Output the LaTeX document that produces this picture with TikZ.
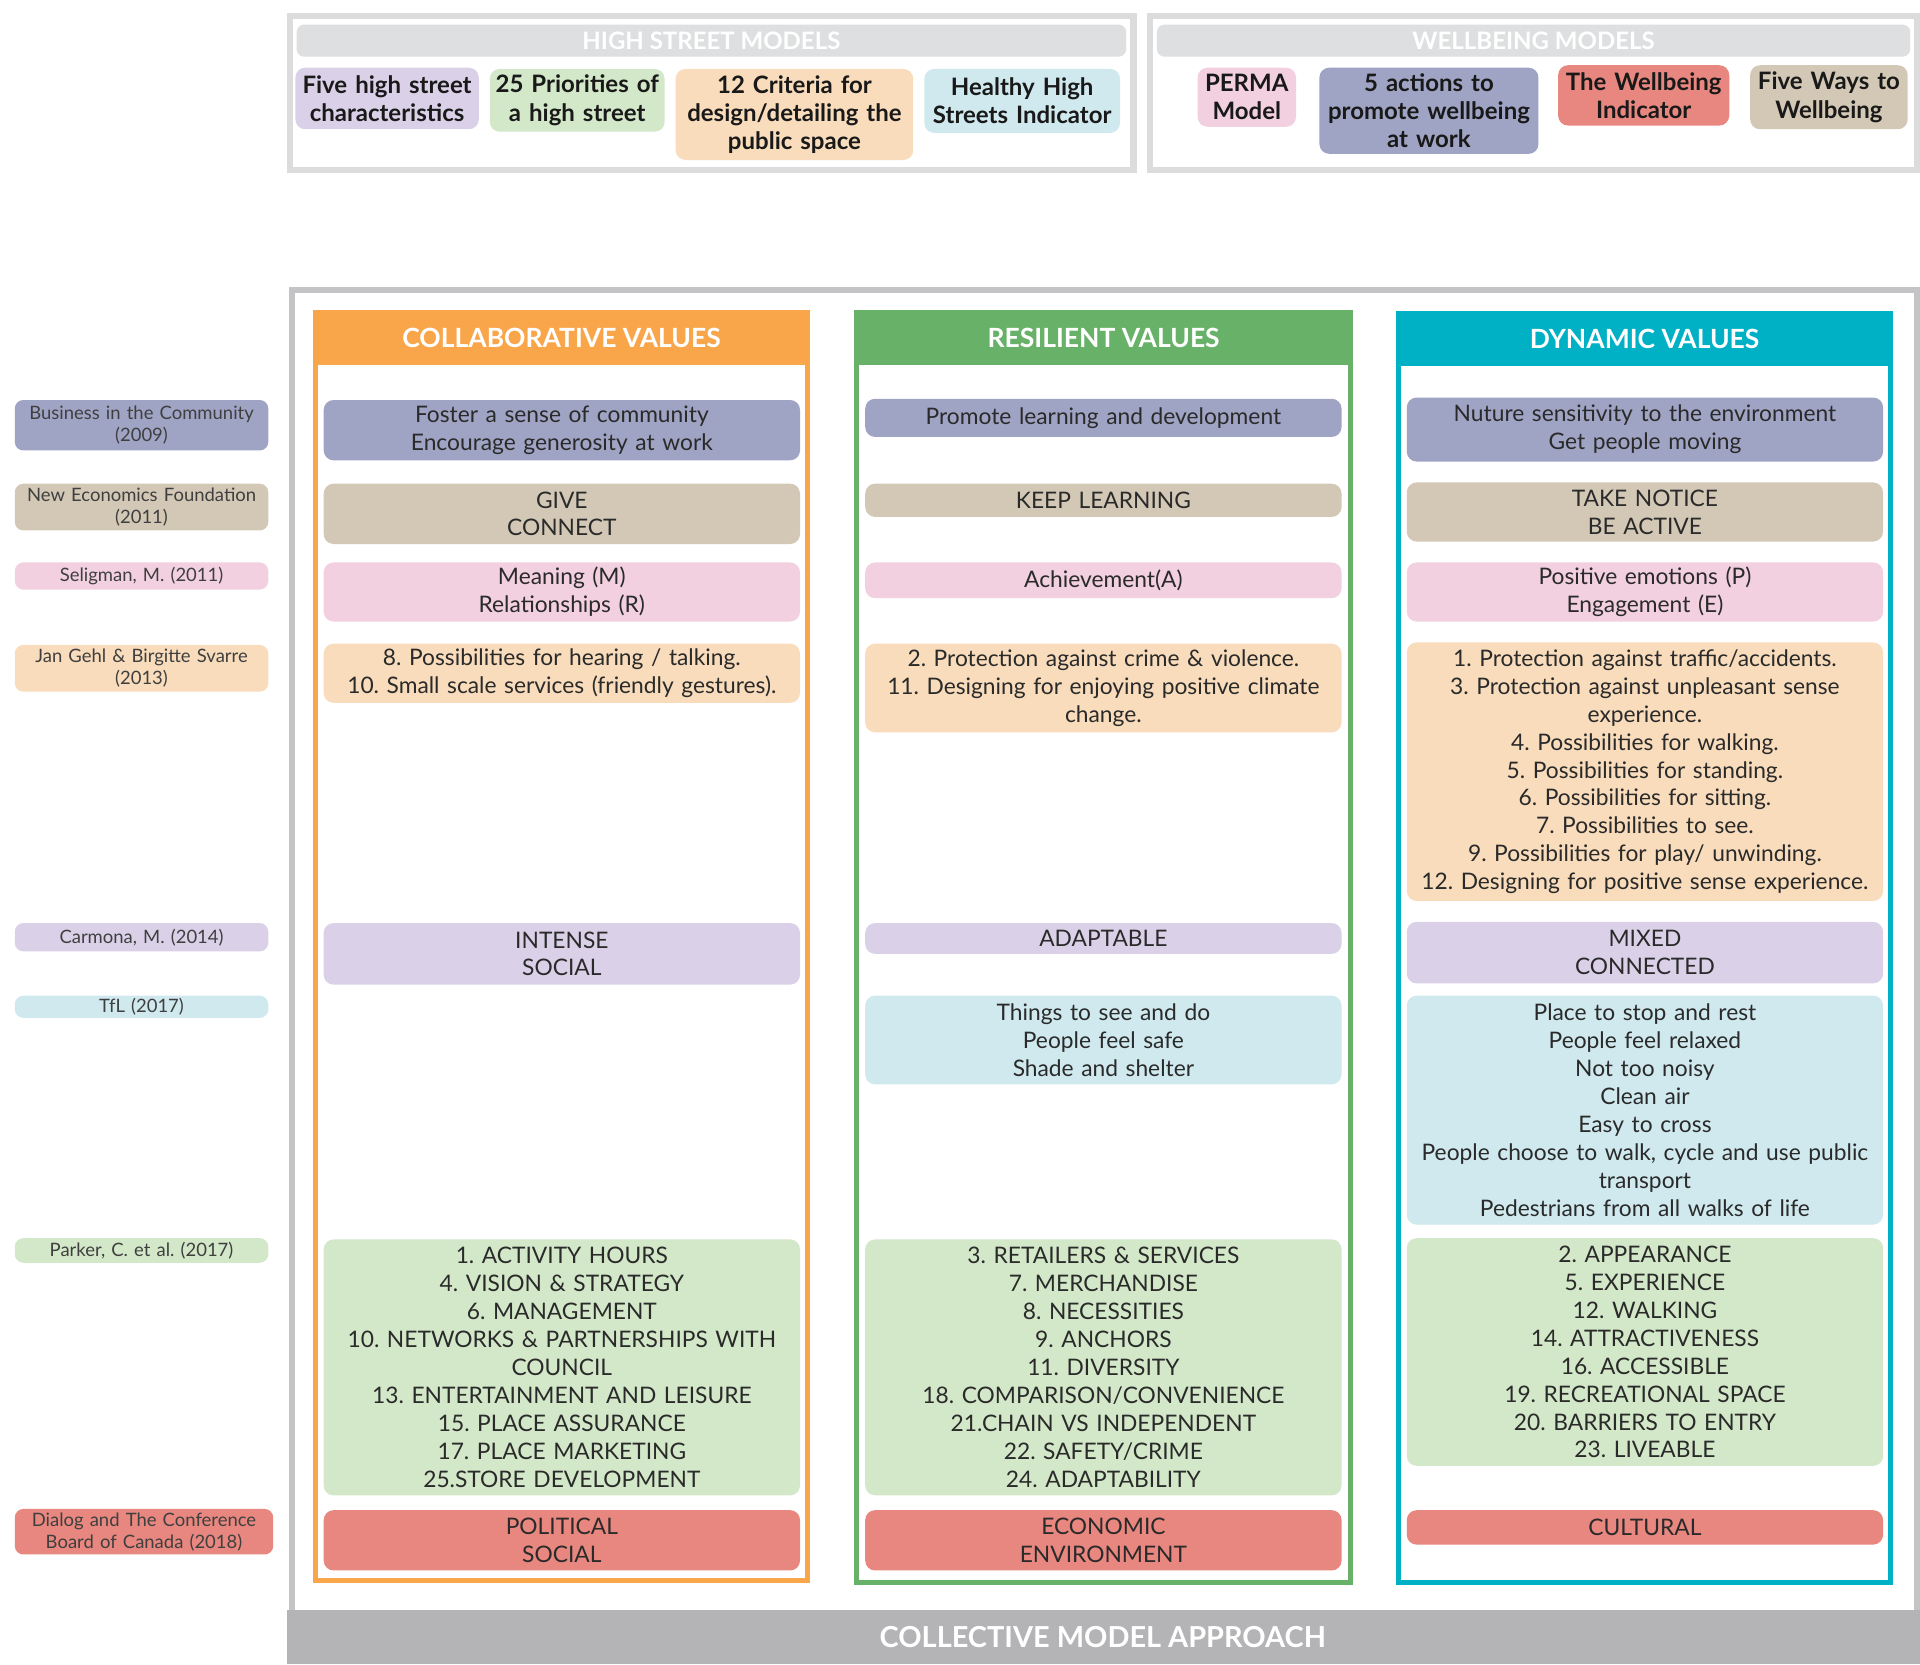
\documentclass[tikz,border=0pt]{standalone}
\usepackage{fontspec}
\setmainfont{Lato}
\frenchspacing
\definecolor{slate}{HTML}{A0A4C4}
\definecolor{tan}{HTML}{D3C8B6}
\definecolor{pinkc}{HTML}{F2D0DF}
\definecolor{peach}{HTML}{F8DCBB}
\definecolor{lav}{HTML}{DAD1E8}
\definecolor{cyanc}{HTML}{CFE9EE}
\definecolor{greenc}{HTML}{D3E8C8}
\definecolor{salmon}{HTML}{E8877F}
\definecolor{orangeh}{HTML}{F9A64B}
\definecolor{greenh}{HTML}{67B168}
\definecolor{tealh}{HTML}{00B0C5}
\definecolor{panelgray}{HTML}{DCDCDC}
\definecolor{bargray}{HTML}{DEDFE0}
\definecolor{framegray}{HTML}{C4C4C6}
\definecolor{bottomgray}{HTML}{B4B4B6}
\definecolor{txt}{HTML}{2A2A2A}
\tikzset{
  cell/.style={rounded corners=8pt, inner sep=0pt, align=center, text=txt,
    minimum width=387pt, text width=385pt, font=\fontsize{18.5}{22.7}\selectfont},
  srclabel/.style={rounded corners=7pt, inner sep=0pt, align=center, text=txt!90,
    minimum width=206pt, text width=204pt, font=\fontsize{15}{18}\selectfont},
  chip/.style={rounded corners=8pt, inner sep=0pt, align=center, text=black!90,
    font=\bfseries\fontsize{19.5}{23}\selectfont},
  headbar/.style={rounded corners=6pt, fill=bargray, inner sep=0pt, text=white,
    font=\bfseries\fontsize{19.5}{20}\selectfont, minimum height=26pt},
  colhead/.style={inner sep=0pt, text=white, minimum width=404pt, minimum height=44pt,
    font=\bfseries\fontsize{21.5}{23}\selectfont},
}
\begin{document}
\begin{tikzpicture}[x=1pt,y=-1pt]
\useasboundingbox (0,0) rectangle (1560,1352);
\fill[white] (0,0) rectangle (1560,1352);

% ---------- top panels ----------
\draw[panelgray, line width=5pt] (235.5,13) rectangle (921,138);
\draw[panelgray, line width=5pt] (934.5,13) rectangle (1557.5,138);
\node[headbar, minimum width=674pt] (hsbar) at (578,33) {HIGH STREET MODELS};
\node[headbar, minimum width=612pt] (wbbar) at (1246,33) {WELLBEING MODELS};

\node[chip, fill=lav, minimum width=149pt, minimum height=50pt, text width=149pt] (hs1) at (314.5,80) {Five high street\\characteristics};
\node[chip, fill=greenc, minimum width=142pt, minimum height=51pt, text width=142pt] (hs2) at (469,81.5) {25 Priorities of\\a high street};
\node[chip, fill=peach, minimum width=193pt, minimum height=74pt, text width=193pt] (hs3) at (645.5,93) {12 Criteria for\\design/detailing the\\public space};
\node[chip, fill=cyanc, minimum width=159pt, minimum height=52pt, text width=159pt] (hs4) at (830.5,82) {Healthy High\\Streets Indicator};

\node[chip, fill=pinkc, minimum width=80pt, minimum height=48pt, text width=80pt] (wb1) at (1013,79) {PERMA\\Model};
\node[chip, fill=slate, minimum width=178pt, minimum height=70pt, text width=178pt] (wb2) at (1161,90) {5 actions to\\promote wellbeing\\at work};
\node[chip, fill=salmon, minimum width=139pt, minimum height=49pt, text width=139pt] (wb3) at (1335.5,77.5) {The Wellbeing\\Indicator};
\node[chip, fill=tan, minimum width=128pt, minimum height=52pt, text width=128pt] (wb4) at (1486,79) {Five Ways to\\Wellbeing};

% ---------- main panel ----------
\draw[framegray, line width=5pt] (237.5,1310) -- (237.5,235.5) -- (1557.5,235.5) -- (1557.5,1310);
\fill[bottomgray] (233,1308) rectangle (1560,1352);
\node[text=white, font=\bfseries\fontsize{23.5}{25}\selectfont] (collective) at (896,1330) {COLLECTIVE MODEL APPROACH};

% column frames
\draw[orangeh, line width=4pt] (256,254) rectangle (656,1284);
\node[colhead, fill=orangeh, anchor=north west] (h1) at (254,252) {COLLABORATIVE VALUES};
\draw[greenh, line width=4pt] (696,254) rectangle (1097,1286);
\node[colhead, fill=greenh, anchor=north west, minimum width=405pt] (h2) at (694,252) {RESILIENT VALUES};
\draw[tealh, line width=4pt] (1136,255) rectangle (1536,1286);
\node[colhead, fill=tealh, anchor=north west] (h3) at (1134,253) {DYNAMIC VALUES};

% ---------- source labels ----------
\node[srclabel, fill=slate, minimum height=41pt] (s1) at (115,345.5) {Business in the Community\\(2009)};
\node[srclabel, fill=tan, minimum height=38pt] (s2) at (115,412) {New Economics Foundation\\(2011)};
\node[srclabel, fill=pinkc, minimum height=22pt] (s3) at (115,468) {Seligman, M. (2011)};
\node[srclabel, fill=peach, minimum height=38pt] (s4) at (115,543) {Jan Gehl \& Birgitte Svarre\\(2013)};
\node[srclabel, fill=lav, minimum height=23pt] (s5) at (115,761.5) {Carmona, M. (2014)};
\node[srclabel, fill=cyanc, minimum height=18pt] (s6) at (115,818) {TfL (2017)};
\node[srclabel, fill=greenc, minimum height=20pt] (s7) at (115,1016) {Parker, C. et al. (2017)};
\node[srclabel, fill=salmon, minimum height=37pt, minimum width=210pt, text width=208pt] (s8) at (117,1244.5) {Dialog and The Conference\\Board of Canada (2018)};

% ---------- column 1 ----------
\node[cell, fill=slate, minimum height=49pt] (c1a) at (456.5,349.5) {Foster a sense of community\\Encourage generosity at work};
\node[cell, fill=tan, minimum height=49pt] (c1b) at (456.5,417.5) {GIVE\\CONNECT};
\node[cell, fill=pinkc, minimum height=48pt] (c1c) at (456.5,481) {Meaning (M)\\Relationships (R)};
\node[cell, fill=peach, minimum height=48pt] (c1d) at (456.5,547) {8. Possibilities for hearing / talking.\\10. Small scale services (friendly gestures).};
\node[cell, fill=lav, minimum height=50pt] (c1e) at (456.5,775) {INTENSE\\SOCIAL};
\node[cell, fill=greenc, minimum height=208pt] (c1f) at (456.5,1111) {1. ACTIVITY HOURS\\4. VISION \& STRATEGY\\6. MANAGEMENT\\10. NETWORKS \& PARTNERSHIPS WITH\\COUNCIL\\13. ENTERTAINMENT AND LEISURE\\15. PLACE ASSURANCE\\17. PLACE MARKETING\\25.STORE DEVELOPMENT};
\node[cell, fill=salmon, minimum height=49pt] (c1g) at (456.5,1251.5) {POLITICAL\\SOCIAL};

% ---------- column 2 ----------
\node[cell, fill=slate, minimum height=31pt] (c2a) at (896.5,339.5) {Promote learning and development};
\node[cell, fill=tan, minimum height=27pt] (c2b) at (896.5,406.5) {KEEP LEARNING};
\node[cell, fill=pinkc, minimum height=29pt] (c2c) at (896.5,471.5) {Achievement(A)};
\node[cell, fill=peach, minimum height=72pt] (c2d) at (896.5,559) {2. Protection against crime \& violence.\\11. Designing for enjoying positive climate\\change.};
\node[cell, fill=lav, minimum height=25pt] (c2e) at (896.5,762.5) {ADAPTABLE};
\node[cell, fill=cyanc, minimum height=72pt] (c2f) at (896.5,845) {Things to see and do\\People feel safe\\Shade and shelter};
\node[cell, fill=greenc, minimum height=208pt] (c2g) at (896.5,1111) {3. RETAILERS \& SERVICES\\7. MERCHANDISE\\8. NECESSITIES\\9. ANCHORS\\11. DIVERSITY\\18. COMPARISON/CONVENIENCE\\21.CHAIN VS INDEPENDENT\\22. SAFETY/CRIME\\24. ADAPTABILITY};
\node[cell, fill=salmon, minimum height=49pt] (c2h) at (896.5,1251.5) {ECONOMIC\\ENVIRONMENT};

% ---------- column 3 ----------
\node[cell, fill=slate, minimum height=52pt] (c3a) at (1336.5,349) {Nuture sensitivity to the environment\\Get people moving};
\node[cell, fill=tan, minimum height=48pt] (c3b) at (1336.5,416) {TAKE NOTICE\\BE ACTIVE};
\node[cell, fill=pinkc, minimum height=48pt] (c3c) at (1336.5,481) {Positive emotions (P)\\Engagement (E)};
\node[cell, fill=peach, minimum height=210pt] (c3d) at (1336.5,627) {1. Protection against traffic/accidents.\\3. Protection against unpleasant sense\\experience.\\4. Possibilities for walking.\\5. Possibilities for standing.\\6. Possibilities for sitting.\\7. Possibilities to see.\\9. Possibilities for play/ unwinding.\\12. Designing for positive sense experience.};
\node[cell, fill=lav, minimum height=50pt] (c3e) at (1336.5,774) {MIXED\\CONNECTED};
\node[cell, fill=cyanc, minimum height=186pt] (c3f) at (1336.5,902) {Place to stop and rest\\People feel relaxed\\Not too noisy\\Clean air\\Easy to cross\\People choose to walk, cycle and use public\\transport\\Pedestrians from all walks of life};
\node[cell, fill=greenc, minimum height=185pt] (c3g) at (1336.5,1098.5) {2. APPEARANCE\\5. EXPERIENCE\\12. WALKING\\14. ATTRACTIVENESS\\16. ACCESSIBLE\\19. RECREATIONAL SPACE\\20. BARRIERS TO ENTRY\\23. LIVEABLE};
\node[cell, fill=salmon, minimum height=28pt] (c3h) at (1336.5,1241) {CULTURAL};
\end{tikzpicture}
\end{document}
